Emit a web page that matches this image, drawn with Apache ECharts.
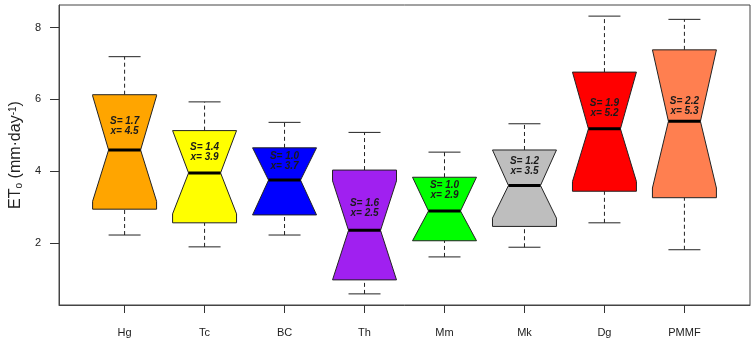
<!DOCTYPE html>
<html>
<head>
<meta charset="utf-8">
<script src="https://cdn.jsdelivr.net/npm/echarts@6/dist/echarts.min.js"></script>
<style>
html, body { margin: 0; padding: 0; background: #fff; }
#chart { width: 756px; height: 346px; }
</style>
</head>
<body>
<div id="chart"></div>
<script>
// 八种方法的 ET0 缺口箱线图
var methods = ['Hg', 'Tc', 'BC', 'Th', 'Mm', 'Mk', 'Dg', 'PMMF'];
var whiskerLow  = [2.22, 1.89, 2.22, 0.58, 1.61, 1.88, 2.56, 1.81];
var q1          = [2.94, 2.56, 2.78, 0.97, 2.06, 2.46, 3.44, 3.26];
var notchLow    = [3.16, 2.81, 2.78, 0.97, 2.06, 2.69, 3.71, 3.53];
var median      = [4.59, 3.95, 3.75, 2.35, 2.89, 3.60, 5.18, 5.39];
var notchHigh   = [6.10, 5.13, 4.65, 3.73, 3.83, 4.59, 6.76, 7.38];
var q3          = [6.13, 5.13, 4.65, 4.03, 3.83, 4.59, 6.76, 7.38];
var whiskerHigh = [7.19, 5.93, 5.36, 5.08, 4.53, 5.32, 8.32, 8.23];
var sdValues    = [1.7, 1.4, 1.0, 1.6, 1.0, 1.2, 1.9, 2.2];
var meanValues  = [4.5, 3.9, 3.7, 2.5, 2.9, 3.5, 5.2, 5.3];
var labelY      = [5.25, 4.54, 4.27, 2.97, 3.46, 4.15, 5.76, 5.81];
var yTicks = [2, 4, 6, 8];
var xTicks = [1, 2, 3, 4, 5, 6, 7, 8];

var colors = ['#FFA500', '#FFFF00', '#0000FF', '#A020F0', '#00FF00', '#BEBEBE', '#FF0000', '#FF7F50'];

var boxData = methods.map(function (m, i) {
    return [i + 1, whiskerLow[i], q1[i], notchLow[i], median[i], notchHigh[i], q3[i], whiskerHigh[i], labelY[i]];
});

function renderBox(params, api) {
    var x = api.value(0);
    var i = params.dataIndex;
    var p = function (dx, v) { return api.coord([x + dx, v]); };
    var w = 0.4, n = 0.2, cap = 0.2;
    var lo = api.value(1), b1 = api.value(2), nl = api.value(3), md = api.value(4);
    var nh = api.value(5), b3 = api.value(6), hi = api.value(7), ly = api.value(8);
    var solid = { stroke: '#222', lineWidth: 1 };
    var dashed = { stroke: '#222', lineWidth: 1, lineDash: [4, 3] };
    var seg = function (a, b, st) {
        return { type: 'line', shape: { x1: a[0], y1: a[1], x2: b[0], y2: b[1] }, style: st };
    };
    var poly = [p(-w, b1), p(-w, nl), p(-n, md), p(-w, nh), p(-w, b3),
                p(w, b3), p(w, nh), p(n, md), p(w, nl), p(w, b1)];
    var t = p(0, ly);
    return {
        type: 'group',
        children: [
            seg(p(0, b3), p(0, hi), dashed),
            seg(p(0, lo), p(0, b1), dashed),
            seg(p(-cap, hi), p(cap, hi), solid),
            seg(p(-cap, lo), p(cap, lo), solid),
            { type: 'polygon', shape: { points: poly },
              style: { fill: colors[i], stroke: '#222', lineWidth: 1 } },
            seg(p(-n, md), p(n, md), { stroke: '#000', lineWidth: 3 }),
            { type: 'text',
              style: {
                  text: 'S= ' + sdValues[i].toFixed(1) + '\nx= ' + meanValues[i].toFixed(1),
                  x: t[0], y: t[1], align: 'center', verticalAlign: 'middle',
                  fontFamily: 'Liberation Sans, Arial, sans-serif', fontSize: 10,
                  fontWeight: 'bold', fontStyle: 'italic', lineHeight: 10, fill: '#1a1a1a'
              } }
        ]
    };
}

var myChart = echarts.init(document.getElementById('chart'));

myChart.setOption({
    animation: false,
    grid: { left: 53, right: 6, top: 5, bottom: 41, show: true, borderColor: '#444', borderWidth: 1 },
    xAxis: {
        type: 'value', min: 0.18, max: 8.82,
        axisLine: { show: true, lineStyle: { color: '#444' } },
        splitLine: { show: false },
        axisTick: { show: true, length: 8, customValues: xTicks, lineStyle: { color: '#333' } },
        axisLabel: {
            customValues: xTicks, margin: 22, fontSize: 11, color: '#222',
            fontFamily: 'Liberation Sans, Arial, sans-serif',
            formatter: function (v) { return methods[Math.round(v) - 1]; }
        }
    },
    yAxis: {
        type: 'value', min: 0.27, max: 8.63,
        axisLine: { show: true, lineStyle: { color: '#444' } },
        splitLine: { show: false },
        axisTick: { show: true, length: 9, customValues: yTicks, lineStyle: { color: '#333' } },
        axisLabel: {
            customValues: yTicks, margin: 18, fontSize: 11, color: '#222',
            fontFamily: 'Liberation Sans, Arial, sans-serif'
        },
        name: '{a|ET}{s|o}{a| (mm·day}{p|-1}{a|)}',
        nameLocation: 'middle', nameRotate: 90, nameGap: 33,
        nameTextStyle: {
            color: '#222',
            rich: {
                a: { fontSize: 16, fontFamily: 'Liberation Sans, Arial, sans-serif', color: '#222' },
                s: { fontSize: 10, fontFamily: 'Liberation Sans, Arial, sans-serif', color: '#222', verticalAlign: 'bottom' },
                p: { fontSize: 10, fontFamily: 'Liberation Sans, Arial, sans-serif', color: '#222', verticalAlign: 'top' }
            }
        }
    },
    series: [{
        type: 'custom',
        renderItem: renderBox,
        encode: { x: 0, y: [1, 7] },
        data: boxData
    }]
});
</script>
</body>
</html>
